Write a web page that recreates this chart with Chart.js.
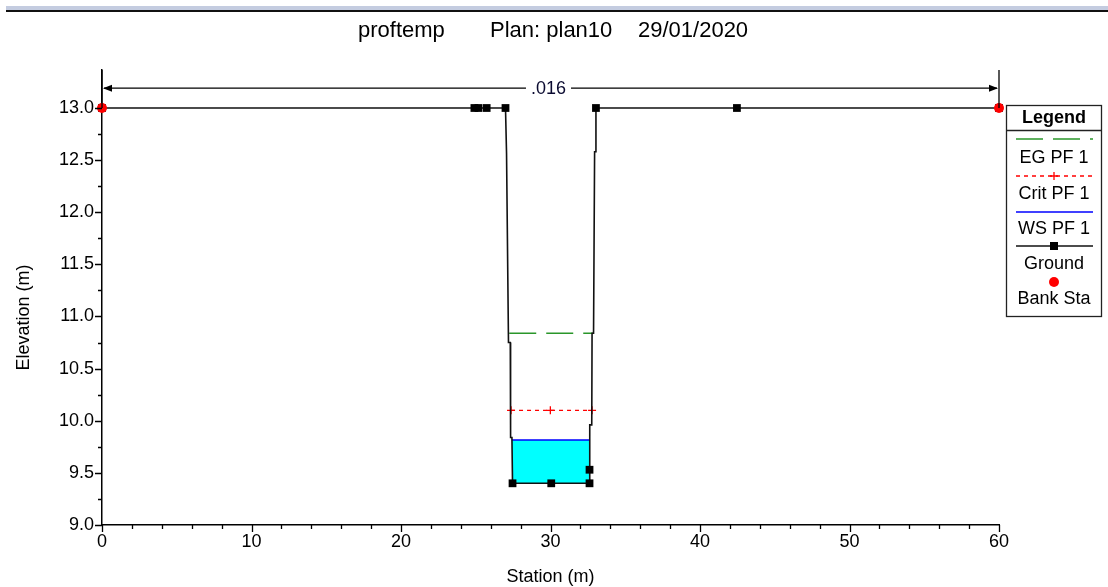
<!DOCTYPE html>
<html><head><meta charset="utf-8">
<script src="https://cdn.jsdelivr.net/npm/chart.js@4.4.0/dist/chart.umd.min.js"></script>
<style>
html,body{margin:0;padding:0;background:#fff;overflow:hidden}
#wrap{position:relative;width:1108px;height:587px}
#band{position:absolute;left:6px;top:6px;width:1102px;height:4px;background:#c4cce0}
#rule{position:absolute;left:6px;top:10px;width:1102px;height:2px;background:#111}
canvas{position:absolute;left:0;top:0}
</style></head><body>
<div id="wrap"><canvas id="c" width="1108" height="587"></canvas><div id="band"></div><div id="rule"></div></div>
<script>
// ---- data ----
const titleParts = ['proftemp', 'Plan: plan10', '29/01/2020'];
const groundStation = [0, 24.91, 25.18, 25.73, 26.99, 27.06, 27.19, 27.31, 27.33, 27.42, 27.46, 30.05, 32.61, 32.61, 32.64, 32.76, 32.78, 32.88, 32.95, 33.04, 33.04, 42.47, 60];
const groundElev    = [13.0, 13.0, 13.0, 13.0, 13.0, 12.56, 10.75, 10.75, 9.84, 9.84, 9.40, 9.40, 9.40, 9.53, 9.96, 9.96, 10.84, 10.84, 12.58, 12.58, 13.0, 13.0, 13.0];
const groundIsPoint = [1, 1, 1, 1, 1, 0, 0, 0, 0, 0, 1, 1, 1, 1, 0, 0, 0, 0, 0, 0, 1, 1, 1];
const bankStation = [0, 60];
const bankElev = [13.0, 13.0];
const wsStation = [27.42, 32.62];
const wsElev = 9.815;
const critStation = [27.36, 29.99, 32.78];
const critElev = 10.10;
const egStation = [27.24, 32.86];
const egElev = 10.84;
const nValues = ['.016'];
const nBreaks = [0, 60];
const nLabelElev = 13.19;
const yMajor = [9.0, 9.5, 10.0, 10.5, 11.0, 11.5, 12.0, 12.5, 13.0];
const yMinor = [9.25, 9.75, 10.25, 10.75, 11.25, 11.75, 12.25, 12.75];
const xMajor = [0, 10, 20, 30, 40, 50, 60];
const xMinor = [2, 4, 6, 8, 12, 14, 16, 18, 22, 24, 26, 28, 32, 34, 36, 38, 42, 44, 46, 48, 52, 54, 56, 58];
const legendLabels = ['EG PF 1', 'Crit PF 1', 'WS PF 1', 'Ground', 'Bank Sta'];
const bedElev = Math.min(...groundElev);

const FONT = '"Liberation Sans", Arial, sans-serif';
const pts = (xs, ys) => xs.map((x, i) => ({x: x, y: Array.isArray(ys) ? ys[i] : ys}));

const dsBank = {label: 'Bank Sta', data: pts(bankStation, bankElev), showLine: false,
  pointStyle: 'circle', pointRadius: 5, pointBackgroundColor: '#ff0000', pointBorderColor: '#ff0000', pointBorderWidth: 0, clip: false};
const dsGround = {label: 'Ground', data: pts(groundStation, groundElev), showLine: true,
  borderColor: '#111', borderWidth: 1.6, pointStyle: 'rect',
  pointRadius: groundIsPoint.map(p => p ? 5.5 : 0), pointBackgroundColor: '#000', pointBorderColor: '#000', pointBorderWidth: 0, clip: false};
const dsWS = {label: 'WS PF 1', data: pts(wsStation, wsElev), showLine: true,
  borderColor: '#0000ff', borderWidth: 1.6, pointRadius: 0, fill: {value: bedElev}, backgroundColor: '#00ffff'};
const dsCrit = {label: 'Crit PF 1', data: pts(critStation, critElev), showLine: true,
  borderColor: '#ff0000', borderWidth: 1.3, borderDash: [4, 4], pointStyle: 'cross', pointRadius: 4,
  pointBorderColor: '#ff0000', pointBorderWidth: 1.3};
const dsEG = {label: 'EG PF 1', data: pts(egStation, egElev), showLine: true,
  borderColor: '#2a962a', borderWidth: 1.6, borderDash: [27, 10], pointRadius: 0};

const overlay = {
  id: 'overlay',
  afterDraw(chart) {
    const ctx = chart.ctx, xs = chart.scales.x, ys = chart.scales.y, ca = chart.chartArea;
    ctx.save();
    ctx.strokeStyle = '#000'; ctx.fillStyle = '#000'; ctx.lineWidth = 1.3;
    // ticks
    ctx.beginPath();
    yMajor.forEach(v => { const p = Math.round(ys.getPixelForValue(v)) + 0.5; ctx.moveTo(ca.left - 7, p); ctx.lineTo(ca.left, p); });
    yMinor.forEach(v => { const p = Math.round(ys.getPixelForValue(v)) + 0.5; ctx.moveTo(ca.left - 4, p); ctx.lineTo(ca.left, p); });
    xMajor.forEach(v => { const p = Math.round(xs.getPixelForValue(v)) + 0.5; ctx.moveTo(p, ca.bottom); ctx.lineTo(p, ca.bottom + 7); });
    xMinor.forEach(v => { const p = Math.round(xs.getPixelForValue(v)) + 0.5; ctx.moveTo(p, ca.bottom); ctx.lineTo(p, ca.bottom + 4); });
    ctx.stroke();
    // axis titles
    ctx.font = '18px ' + FONT; ctx.textAlign = 'center'; ctx.textBaseline = 'middle';
    ctx.fillText('Station (m)', (ca.left + ca.right) / 2, 577);
    ctx.save(); ctx.translate(24, (ca.top + ca.bottom) / 2 + 20); ctx.rotate(-Math.PI / 2);
    ctx.fillText('Elevation (m)', 0, 0); ctx.restore();
    // title
    ctx.font = '22px ' + FONT; ctx.textAlign = 'left'; ctx.textBaseline = 'alphabetic';
    const tx = [358, 490, 638];
    titleParts.forEach((t, i) => ctx.fillText(t, tx[i], 37));
    // manning's n annotation
    const yA = ys.getPixelForValue(nLabelElev), yTop = ca.top, y13 = ys.getPixelForValue(13.0);
    for (let i = 0; i < nValues.length; i++) {
      const x0 = xs.getPixelForValue(nBreaks[i]), x1 = xs.getPixelForValue(nBreaks[i + 1]);
      ctx.lineWidth = 1.3;
      ctx.beginPath();
      [x0, x1].forEach(x => { ctx.moveTo(x, yTop); ctx.lineTo(x, y13); });
      ctx.font = '18px ' + FONT;
      const w = ctx.measureText(nValues[i]).width, xm = (x0 + x1) / 2 - 2;
      ctx.moveTo(x0 + 2, yA); ctx.lineTo(xm - w / 2 - 5, yA);
      ctx.moveTo(xm + w / 2 + 5, yA); ctx.lineTo(x1 - 2, yA);
      ctx.stroke();
      ctx.beginPath();
      ctx.moveTo(x0 + 1, yA); ctx.lineTo(x0 + 10, yA - 3.5); ctx.lineTo(x0 + 10, yA + 3.5); ctx.closePath();
      ctx.moveTo(x1 - 1, yA); ctx.lineTo(x1 - 10, yA - 3.5); ctx.lineTo(x1 - 10, yA + 3.5); ctx.closePath();
      ctx.fill();
      ctx.fillStyle = '#0a0a30'; ctx.textAlign = 'center'; ctx.textBaseline = 'middle';
      ctx.fillText(nValues[i], xm, yA + 1);
      ctx.fillStyle = '#000';
    }
    // legend
    const L = 1006.5, R = 1101.5, T = 105.5, B = 316.5, cx = (L + R) / 2;
    ctx.lineWidth = 1.3; ctx.strokeStyle = '#222';
    ctx.strokeRect(L, T, R - L, B - T);
    ctx.beginPath(); ctx.moveTo(L, 130.5); ctx.lineTo(R, 130.5); ctx.stroke();
    ctx.font = 'bold 18px ' + FONT; ctx.textAlign = 'center'; ctx.textBaseline = 'middle'; ctx.fillStyle = '#000';
    ctx.fillText('Legend', cx, 118);
    ctx.font = '18px ' + FONT;
    const sx0 = 1016, sx1 = 1093;
    const lineYs = [139, 176, 212, 246, 282], textYs = [158, 194, 229, 264, 299];
    const dss = [dsEG, dsCrit, dsWS, dsGround, dsBank];
    dss.forEach((d, i) => {
      const y = lineYs[i];
      if (d.showLine) {
        ctx.save(); ctx.strokeStyle = d.borderColor; ctx.lineWidth = d.borderWidth;
        ctx.setLineDash(d.borderDash || []);
        ctx.beginPath(); ctx.moveTo(sx0, y); ctx.lineTo(sx1, y); ctx.stroke(); ctx.restore();
      }
      if (d === dsCrit) {
        ctx.save(); ctx.strokeStyle = '#ff0000'; ctx.lineWidth = 1.3; ctx.beginPath();
        ctx.moveTo(cx - 4, y); ctx.lineTo(cx + 4, y); ctx.moveTo(cx, y - 4); ctx.lineTo(cx, y + 4); ctx.stroke(); ctx.restore();
      }
      if (d === dsGround) { ctx.fillStyle = '#000'; ctx.fillRect(cx - 4, y - 4, 8, 8); }
      if (d === dsBank) { ctx.fillStyle = '#ff0000'; ctx.beginPath(); ctx.arc(cx, y, 5, 0, Math.PI * 2); ctx.fill(); }
      ctx.fillStyle = '#000';
      ctx.fillText(legendLabels[i], cx, textYs[i]);
    });
    ctx.restore();
  }
};

new Chart(document.getElementById('c'), {
  type: 'scatter',
  data: {datasets: [dsBank, dsGround, dsWS, dsCrit, dsEG]},
  options: {
    responsive: false, animation: false, events: [],
    layout: {padding: {left: 0, top: 70, right: 109, bottom: 0}},
    elements: {line: {tension: 0}},
    plugins: {legend: {display: false}, tooltip: {enabled: false}, title: {display: false}},
    scales: {
      x: {type: 'linear', min: 0, max: 60,
        afterFit: s => { s.height = 62; },
        afterBuildTicks: s => { s.ticks = xMajor.map(v => ({value: v})); },
        grid: {display: false, drawTicks: false},
        border: {display: true, color: '#000', width: 1.5},
        ticks: {padding: 6, color: '#000', font: {family: FONT, size: 18}, callback: v => String(v)}},
      y: {type: 'linear', min: 9.0, max: 13.3645,
        afterFit: s => { s.width = 102; },
        afterBuildTicks: s => { s.ticks = yMajor.map(v => ({value: v})); },
        grid: {display: false, drawTicks: false},
        border: {display: true, color: '#000', width: 1.5},
        ticks: {padding: 8, color: '#000', font: {family: FONT, size: 18}, callback: v => Number(v).toFixed(1)}}
    }
  },
  plugins: [overlay]
});
</script>
</body></html>
